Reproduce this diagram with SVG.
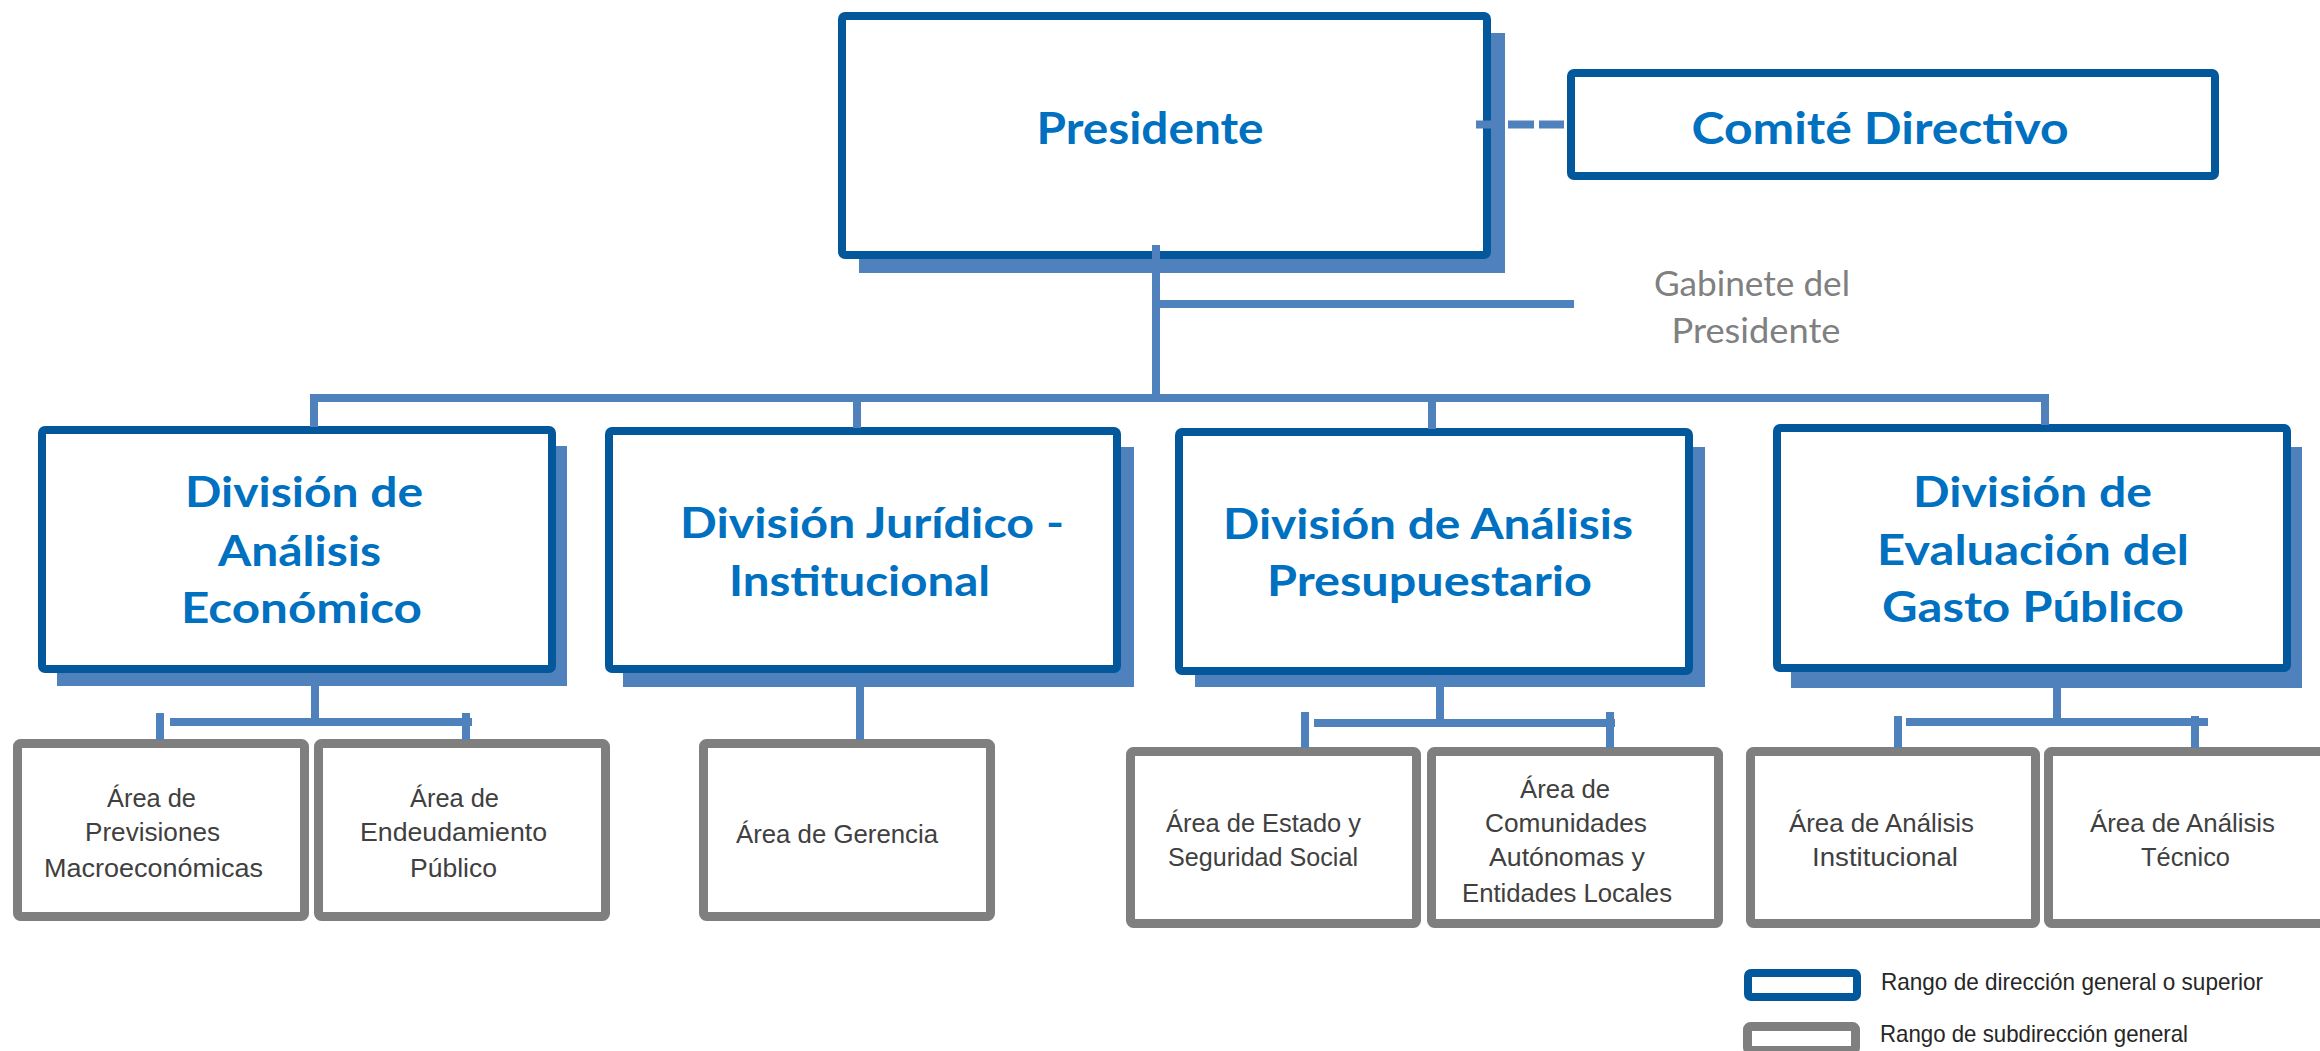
<svg xmlns="http://www.w3.org/2000/svg" width="2320" height="1051" viewBox="0 0 2320 1051">
<style>
.shadow{fill:#4F81BD}
.main{fill:#FFFFFF;stroke:#03579B;stroke-width:8}
.sub{fill:#FFFFFF;stroke:#7F7F7F;stroke-width:9}
.conn{fill:none;stroke:#4F81BD;stroke-width:8}
.t1{font-family:Lato,"Liberation Sans",sans-serif;font-weight:bold;fill:#0070C0;text-anchor:middle}
.big{font-size:43px}
.div{font-size:42px}
.gab{font-family:Lato,"Liberation Sans",sans-serif;font-size:34px;fill:#808080;text-anchor:middle}
.area{font-family:"Liberation Sans",sans-serif;font-size:25.5px;fill:#404040;text-anchor:middle}
.leg{font-family:"Liberation Sans",sans-serif;font-size:24px;fill:#262626}
</style>
<rect width="2320" height="1051" fill="#FFFFFF"/>

<g id="presidente">
  <rect class="shadow" x="859" y="33" width="646" height="240"/>
  <rect class="main" x="842" y="16" width="645" height="239" rx="3"/>
  <text class="t1 big" x="1150" y="144" textLength="227" lengthAdjust="spacingAndGlyphs">Presidente</text>
</g>

<g id="comite">
  <rect class="main" x="1571" y="73" width="644" height="103" rx="3"/>
  <text class="t1 big" x="1880" y="144" textLength="377" lengthAdjust="spacingAndGlyphs">Comité Directivo</text>
</g>

<g id="gabinete">
  <text class="gab" x="1752" y="296" textLength="196" lengthAdjust="spacingAndGlyphs">Gabinete del</text>
  <text class="gab" x="1756" y="343" textLength="169" lengthAdjust="spacingAndGlyphs">Presidente</text>
</g>

<g id="div-analisis-economico">
  <rect class="shadow" x="57" y="446" width="510" height="240"/>
  <rect class="main" x="42" y="430" width="510" height="239" rx="3"/>
  <text class="t1 div" x="304" y="507" textLength="238" lengthAdjust="spacingAndGlyphs">División de</text>
  <text class="t1 div" x="299.5" y="566" textLength="163" lengthAdjust="spacingAndGlyphs">Análisis</text>
  <text class="t1 div" x="301.5" y="623" textLength="241" lengthAdjust="spacingAndGlyphs">Económico</text>
</g>

<g id="div-juridico">
  <rect class="shadow" x="623" y="447" width="511" height="240"/>
  <rect class="main" x="609" y="431" width="508" height="238" rx="3"/>
  <text class="t1 div" x="872" y="537.5" textLength="384" lengthAdjust="spacingAndGlyphs">División Jurídico -</text>
  <text class="t1 div" x="859.5" y="596" textLength="261" lengthAdjust="spacingAndGlyphs">Institucional</text>
</g>

<g id="div-presupuestario">
  <rect class="shadow" x="1195" y="447" width="510" height="240"/>
  <rect class="main" x="1179" y="432" width="510" height="239" rx="3"/>
  <text class="t1 div" x="1428" y="538.5" textLength="410" lengthAdjust="spacingAndGlyphs">División de Análisis</text>
  <text class="t1 div" x="1429.5" y="596" textLength="325" lengthAdjust="spacingAndGlyphs">Presupuestario</text>
</g>

<g id="div-evaluacion">
  <rect class="shadow" x="1791" y="447" width="511" height="241"/>
  <rect class="main" x="1777" y="428" width="510" height="240" rx="3"/>
  <text class="t1 div" x="2032.5" y="507" textLength="239" lengthAdjust="spacingAndGlyphs">División de</text>
  <text class="t1 div" x="2033" y="565" textLength="312" lengthAdjust="spacingAndGlyphs">Evaluación del</text>
  <text class="t1 div" x="2033" y="622" textLength="302" lengthAdjust="spacingAndGlyphs">Gasto Público</text>
</g>

<g id="area-previsiones">
  <rect class="sub" x="17.5" y="743.5" width="287" height="173" rx="3"/>
  <text class="area" x="151.5" y="807" textLength="89" lengthAdjust="spacingAndGlyphs">Área de</text>
  <text class="area" x="152.5" y="841" textLength="135" lengthAdjust="spacingAndGlyphs">Previsiones</text>
  <text class="area" x="153.5" y="877" textLength="219" lengthAdjust="spacingAndGlyphs">Macroeconómicas</text>
</g>

<g id="area-endeudamiento">
  <rect class="sub" x="318.5" y="743.5" width="287" height="173" rx="3"/>
  <text class="area" x="454.5" y="807" textLength="89" lengthAdjust="spacingAndGlyphs">Área de</text>
  <text class="area" x="453.5" y="841" textLength="187" lengthAdjust="spacingAndGlyphs">Endeudamiento</text>
  <text class="area" x="453.5" y="877" textLength="87" lengthAdjust="spacingAndGlyphs">Público</text>
</g>

<g id="area-gerencia">
  <rect class="sub" x="703.5" y="743.5" width="287" height="173" rx="3"/>
  <text class="area" x="837" y="843" textLength="202" lengthAdjust="spacingAndGlyphs">Área de Gerencia</text>
</g>

<g id="area-estado">
  <rect class="sub" x="1130.5" y="751.5" width="286" height="172" rx="3"/>
  <text class="area" x="1263.5" y="832" textLength="195" lengthAdjust="spacingAndGlyphs">Área de Estado y</text>
  <text class="area" x="1263" y="866" textLength="190" lengthAdjust="spacingAndGlyphs">Seguridad Social</text>
</g>

<g id="area-comunidades">
  <rect class="sub" x="1431.5" y="751.5" width="287" height="172" rx="3"/>
  <text class="area" x="1565" y="797.5" textLength="90" lengthAdjust="spacingAndGlyphs">Área de</text>
  <text class="area" x="1566" y="832" textLength="162" lengthAdjust="spacingAndGlyphs">Comunidades</text>
  <text class="area" x="1567" y="866" textLength="156" lengthAdjust="spacingAndGlyphs">Autónomas y</text>
  <text class="area" x="1567" y="902" textLength="210" lengthAdjust="spacingAndGlyphs">Entidades Locales</text>
</g>

<g id="area-institucional">
  <rect class="sub" x="1750.5" y="751.5" width="285" height="172" rx="3"/>
  <text class="area" x="1881.5" y="832" textLength="185" lengthAdjust="spacingAndGlyphs">Área de Análisis</text>
  <text class="area" x="1885" y="866" textLength="146" lengthAdjust="spacingAndGlyphs">Institucional</text>
</g>

<g id="area-tecnico">
  <rect class="sub" x="2048.5" y="751.5" width="300" height="172" rx="3"/>
  <text class="area" x="2182.5" y="832" textLength="185" lengthAdjust="spacingAndGlyphs">Área de Análisis</text>
  <text class="area" x="2185.5" y="866" textLength="89" lengthAdjust="spacingAndGlyphs">Técnico</text>
</g>

<g id="connectors">
  <line class="conn" x1="1476" y1="124.5" x2="1564" y2="124.5" stroke-dasharray="27 5 26 5 26"/>
  <line class="conn" x1="1156" y1="245" x2="1156" y2="402"/>
  <line class="conn" x1="1156" y1="304" x2="1574" y2="304"/>
  <path class="conn" d="M314 427 V398 H2045 V425"/>
  <line class="conn" x1="857" y1="398" x2="857" y2="428"/>
  <line class="conn" x1="1432" y1="398" x2="1432" y2="429"/>
  <!-- Div1 -->
  <line class="conn" x1="315" y1="684" x2="315" y2="722"/>
  <line class="conn" x1="170" y1="722" x2="472" y2="722"/>
  <line class="conn" x1="160" y1="713" x2="160" y2="740"/>
  <line class="conn" x1="466" y1="713" x2="466" y2="740"/>
  <!-- Div2 -->
  <line class="conn" x1="860" y1="684" x2="860" y2="740"/>
  <!-- Div3 -->
  <line class="conn" x1="1440" y1="684" x2="1440" y2="723"/>
  <line class="conn" x1="1314" y1="723" x2="1615" y2="723"/>
  <line class="conn" x1="1305" y1="712" x2="1305" y2="748"/>
  <line class="conn" x1="1610" y1="712" x2="1610" y2="748"/>
  <!-- Div4 -->
  <line class="conn" x1="2057" y1="684" x2="2057" y2="722"/>
  <line class="conn" x1="1906" y1="722" x2="2208" y2="722"/>
  <line class="conn" x1="1898" y1="716" x2="1898" y2="748"/>
  <line class="conn" x1="2195" y1="716" x2="2195" y2="748"/>
</g>

<g id="legend">
  <rect class="main" x="1748" y="973" width="109" height="24" rx="3"/>
  <text class="leg" x="1881" y="990" textLength="382" lengthAdjust="spacingAndGlyphs">Rango de dirección general o superior</text>
  <rect class="sub" x="1747.5" y="1026.5" width="108" height="24" rx="3"/>
  <text class="leg" x="1880" y="1042" textLength="308" lengthAdjust="spacingAndGlyphs">Rango de subdirección general</text>
</g>
</svg>
